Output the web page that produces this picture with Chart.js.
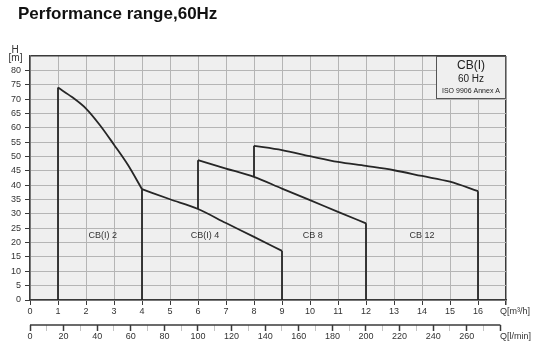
<!DOCTYPE html>
<html><head><meta charset="utf-8">
<script src="https://cdn.jsdelivr.net/npm/chart.js@4/dist/chart.umd.min.js"></script>
<style>html,body{margin:0;padding:0;background:#fff}#wrap{width:542px;height:355px;position:relative}canvas{display:block}</style>
</head><body><div id="wrap"><canvas id="c" width="542" height="355"></canvas></div>
<script>
// ---- data (Q in m3/h, H in m) ----
const seriesNames = ['CB(I) 2', 'CB(I) 4', 'CB 8', 'CB 12'];
const cb2Q = [1, 1.5, 2, 2.5, 3, 3.5, 4];
const cb2H = [74.0, 70.7, 66.7, 60.9, 54.1, 47.0, 38.6];
const cb4Q = [4, 5, 6, 7, 8, 9];
const cb4H = [38.6, 35.1, 31.7, 26.8, 22.0, 17.1];
const cb8Q = [6, 7, 8, 9, 10, 11, 12];
const cb8H = [48.7, 45.8, 42.9, 38.8, 34.8, 30.7, 26.7];
const cb12Q = [8, 9, 10, 11, 12, 13, 14, 15, 16];
const cb12H = [53.7, 52.2, 50.1, 48.1, 46.7, 45.2, 43.2, 41.2, 37.9];
const qTicksM3h = [0,1,2,3,4,5,6,7,8,9,10,11,12,13,14,15,16];
const qTicksLmin = [0,20,40,60,80,100,120,140,160,180,200,220,240,260];
const hTicks = [0,5,10,15,20,25,30,35,40,45,50,55,60,65,70,75,80];
const boxLines = ['CB(I)', '60 Hz', 'ISO 9906 Annex A'];
const titleText = 'Performance range,60Hz';

const allQ = [cb2Q, cb4Q, cb8Q, cb12Q];
const allH = [cb2H, cb4H, cb8H, cb12H];
const LMIN_PER_M3H = 1000 / 60;
const X_MAX = 17, Y_MAX = 85;
const LINE = '#262626';

function valueAt(qs, hs, q) { const i = qs.indexOf(q); return i >= 0 ? hs[i] : null; }

const datasets = [];
allQ.forEach((qs, s) => {
  const hs = allH[s];
  const q0 = qs[0], qn = qs[qs.length - 1];
  let base = 0;
  if (s > 0) { const v = valueAt(allQ[s-1], allH[s-1], q0); if (v !== null) base = v; }
  const common = { showLine: true, pointRadius: 0, borderColor: LINE, borderWidth: 1.8, fill: false };
  // curve
  datasets.push(Object.assign({ label: seriesNames[s], data: qs.map((q, i) => ({x: q, y: hs[i]})),
    cubicInterpolationMode: 'monotone' }, common));
  // left boundary
  datasets.push(Object.assign({ label: seriesNames[s] + ' min', data: [{x: q0, y: base}, {x: q0, y: hs[0]}], tension: 0 }, common));
  // right boundary
  datasets.push(Object.assign({ label: seriesNames[s] + ' max', data: [{x: qn, y: hs[hs.length - 1]}, {x: qn, y: 0}], tension: 0 }, common));
});

const DARK = '#3a3a3a', GRID = '#b5b5b5', FONT = 'Arial, "Liberation Sans", sans-serif';

const decor = {
  id: 'decor',
  beforeDraw(chart) {
    const {ctx, chartArea: a} = chart;
    ctx.save();
    ctx.fillStyle = '#fff'; ctx.fillRect(0, 0, chart.width, chart.height);
    ctx.fillStyle = '#efefef'; ctx.fillRect(a.left, a.top, a.right - a.left, a.bottom - a.top);
    ctx.restore();
  },
  afterDraw(chart) {
    const {ctx, chartArea: a, scales} = chart;
    const x = scales.x, y = scales.y, x2 = scales.x2;
    ctx.save();
    // title
    ctx.fillStyle = '#111'; ctx.font = 'bold 17px ' + FONT; ctx.textBaseline = 'alphabetic'; ctx.textAlign = 'left';
    ctx.fillText(titleText, 18, 18.5);
    // H [m]
    ctx.fillStyle = '#333'; ctx.font = '10px ' + FONT; ctx.textAlign = 'center'; ctx.textBaseline = 'middle';
    ctx.fillText('H', 15, 50);
    ctx.fillText('[m]', 15.5, 58.5);
    // Q labels
    ctx.font = '9px ' + FONT; ctx.textAlign = 'left';
    ctx.fillText('Q[m³/h]', a.right - 6, x.top + 12);
    ctx.fillText('Q[l/min]', a.right - 6, x2.top + 12);
    // lower axis line
    ctx.strokeStyle = DARK; ctx.lineWidth = 1.5;
    ctx.beginPath(); ctx.moveTo(x2.getPixelForValue(0), x2.top); ctx.lineTo(x2.getPixelForValue(280), x2.top); ctx.stroke();
    // series labels
    const anchors = [[2.6, 22.5], [6.25, 22.5], [10.1, 22.5], [14, 22.5]];
    ctx.fillStyle = '#333'; ctx.font = '9px ' + FONT; ctx.textAlign = 'center';
    seriesNames.forEach((n, i) => ctx.fillText(n, x.getPixelForValue(anchors[i][0]), y.getPixelForValue(anchors[i][1])));
    // info box
    const bx = 436, by = a.top, bw = a.right - bx, bh = 43;
    ctx.fillStyle = '#efefef'; ctx.fillRect(bx, by, bw, bh);
    ctx.strokeStyle = '#555'; ctx.lineWidth = 1; ctx.strokeRect(bx + 0.5, by + 0.5, bw - 1, bh - 1);
    const cx = bx + bw / 2;
    ctx.fillStyle = '#222';
    ctx.font = '12px ' + FONT; ctx.fillText(boxLines[0], cx, by + 10);
    ctx.font = '10px ' + FONT; ctx.fillText(boxLines[1], cx, by + 23.5);
    ctx.font = '7px ' + FONT; ctx.fillText(boxLines[2], cx, by + 35);
    ctx.restore();
  }
};

new Chart(document.getElementById('c'), {
  type: 'scatter',
  data: { datasets },
  plugins: [decor],
  options: {
    responsive: false, animation: false, devicePixelRatio: 1,
    layout: { padding: { top: 56, right: 36, left: 0, bottom: 0 } },
    plugins: { legend: { display: false }, tooltip: { enabled: false }, title: { display: false } },
    scales: {
      x: {
        type: 'linear', position: 'bottom', min: 0, max: X_MAX, weight: 0,
        afterFit(s) { s.height = 25; },
        afterBuildTicks(s) { s.ticks = qTicksM3h.concat([X_MAX]).map(v => ({value: v})); },
        ticks: { autoSkip: false, maxRotation: 0, padding: 1, color: '#333', font: { size: 9, family: FONT },
                 callback: v => (qTicksM3h.includes(v) ? String(v) : '') },
        grid: { color: c => (c.tick && c.tick.value === X_MAX ? DARK : GRID), lineWidth: c => (c.tick && c.tick.value === X_MAX ? 1.5 : 1),
                tickColor: DARK, tickLength: 5, drawTicks: true },
        border: { display: true, color: DARK, width: 1.5 }
      },
      x2: {
        type: 'linear', position: 'bottom', min: 0, max: X_MAX * LMIN_PER_M3H, weight: 1,
        afterFit(s) { s.height = 30; },
        ticks: { stepSize: 10, includeBounds: false, autoSkip: false, maxRotation: 0, padding: 0, color: '#333',
                 font: { size: 9, family: FONT },
                 callback: v => (qTicksLmin.includes(v) ? String(v) : '') },
        grid: { drawOnChartArea: false, tickLength: 6,
                tickColor: c => (c.tick && c.tick.value % 20 === 0 ? DARK : '#c4c4c4'),
                tickWidth: c => (c.tick && c.tick.value % 20 === 0 ? 1.5 : 1) },
        border: { display: false }
      },
      y: {
        type: 'linear', min: 0, max: Y_MAX,
        afterFit(s) { s.width = 30; },
        afterBuildTicks(s) { s.ticks = hTicks.concat([Y_MAX]).map(v => ({value: v})); },
        ticks: { autoSkip: false, padding: 4, color: '#333', font: { size: 9, family: FONT },
                 callback: v => (hTicks.includes(v) ? String(v) : '') },
        grid: { color: c => (c.tick && c.tick.value === Y_MAX ? DARK : GRID), lineWidth: c => (c.tick && c.tick.value === Y_MAX ? 1.5 : 1),
                tickColor: c => (c.tick && c.tick.value === Y_MAX ? 'rgba(0,0,0,0)' : DARK), tickLength: 5 },
        border: { display: true, color: DARK, width: 1.5 }
      }
    }
  }
});
</script></body></html>
